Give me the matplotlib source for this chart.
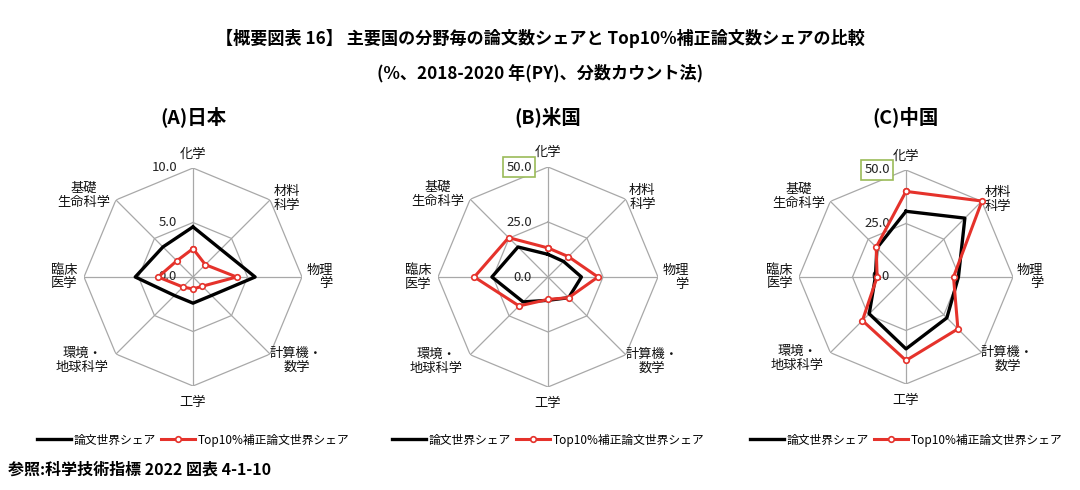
import numpy as np
import matplotlib.pyplot as plt
from matplotlib.transforms import offset_copy

plt.rcParams['font.family'] = ['Noto Sans CJK JP', 'DejaVu Sans']

# 分野 (時計回り, 上から)
fields = ['化学', '材料\n科学', '物理\n学', '計算機・\n数学', '工学',
          '環境・\n地球科学', '臨床\n医学', '基礎\n生命科学']

# 論文世界シェア / Top10%補正論文世界シェア (%)
japan_share = [4.6, 3.6, 5.7, 2.4, 2.4, 2.4, 5.3, 3.9]
japan_top10 = [2.6, 1.6, 4.0, 1.2, 1.1, 1.3, 3.2, 2.1]
us_share = [10.3, 10.0, 15.2, 13.3, 10.6, 16.0, 25.5, 19.3]
us_top10 = [13.2, 13.1, 22.7, 13.3, 10.2, 18.6, 33.5, 25.3]
china_share = [30.7, 38.9, 24.5, 27.0, 33.6, 24.3, 14.3, 19.2]
china_top10 = [40.0, 50.2, 22.2, 34.3, 39.0, 28.8, 13.5, 19.7]

panel_titles = ['(A)日本', '(B)米国', '(C)中国']
rticks = [[0, 5, 10], [0, 25, 50], [0, 25, 50]]
series_labels = ['論文世界シェア', 'Top10%補正論文世界シェア']

# ラベル位置 (角度, 半径比, 揃え)
label_pos = [(0, 1.13, 'center'), (50, 1.12, 'center'), (90, 1.16, 'right'),
             (129, 1.22, 'center'), (180, 1.15, 'center'), (233, 1.27, 'center'),
             (270, 1.18, 'center'), (307, 1.25, 'center')]

W, H = 1080, 490
fig = plt.figure(figsize=(W / 100, H / 100), dpi=100)

centers = [(193, 277, 109), (548, 277, 110), (906, 277, 107)]
data = [(japan_share, japan_top10), (us_share, us_top10), (china_share, china_top10)]

red = '#e5322b'
grid_c = '#a8a8a8'
n = len(fields)
ang = np.arange(n) * 2 * np.pi / n

for i, (cx, cy, R) in enumerate(centers):
    ax = fig.add_axes([(cx - R) / W, (H - cy - R) / H, 2 * R / W, 2 * R / H],
                      projection='polar')
    ax.set_theta_zero_location('N')
    ax.set_theta_direction(-1)
    rmax = rticks[i][-1]
    ax.set_ylim(0, rmax)
    ax.set_xticks([])
    ax.set_yticks([])
    ax.grid(False)
    ax.spines['polar'].set_visible(False)
    ax.patch.set_alpha(0)

    a_closed = np.append(ang, ang[0])
    for r in rticks[i][1:]:
        ax.plot(a_closed, [r] * (n + 1), color=grid_c, lw=0.9, zorder=1)
    for a in ang:
        ax.plot([a, a], [0, rmax], color=grid_c, lw=0.9, zorder=1)

    # 目盛ラベル
    tr = offset_copy(ax.transData, fig=fig, x=-16, y=0, units='dots')
    for r in rticks[i]:
        bbox = None
        if i > 0 and r == rmax:
            bbox = dict(boxstyle='square,pad=0.25', fc='white', ec='#9bbb59', lw=1.2)
        ax.text(0, r, f'{r:.1f}', transform=tr, ha='right', va='center',
                fontsize=9.5, color='#222222', zorder=2, bbox=bbox)

    share, top10 = data[i]
    l1, = ax.plot(a_closed, share + share[:1], color='black', lw=2.4, zorder=3,
                  clip_on=False, label=series_labels[0])
    l2, = ax.plot(a_closed, top10 + top10[:1], color=red, lw=2.2, zorder=4,
                  marker='o', ms=4, mfc='white', mec=red, mew=1.2,
                  clip_on=False, label=series_labels[1])

    for f, (deg, rf, al) in zip(fields, label_pos):
        ax.text(np.deg2rad(deg), rf * rmax, f, ha='center', va='center',
                multialignment=al, fontsize=9.5, linespacing=1.1, color='#111111')

    fig.text(cx / W, 1 - 117 / H, panel_titles[i], ha='center', va='center',
             fontsize=14, fontweight='bold')

    fig.legend(handles=[l1, l2], loc='center', bbox_to_anchor=(cx / W, 1 - 440 / H),
               ncol=2, frameon=False, fontsize=8.5, handlelength=2.9,
               handletextpad=0.2, columnspacing=0.4)

fig.text(0.5, 1 - 38 / H,
         '【概要図表 16】 主要国の分野毎の論文数シェアと Top10%補正論文数シェアの比較',
         ha='center', va='center', fontsize=12.3, fontweight='bold')
fig.text(0.5, 1 - 73 / H, '(%、2018-2020 年(PY)、分数カウント法)',
         ha='center', va='center', fontsize=12.3, fontweight='bold')
fig.text(8 / W, 1 - 470 / H, '参照:科学技術指標 2022 図表 4-1-10',
         ha='left', va='center', fontsize=11.5, fontweight='bold')

fig.savefig('out.png', dpi=100)
